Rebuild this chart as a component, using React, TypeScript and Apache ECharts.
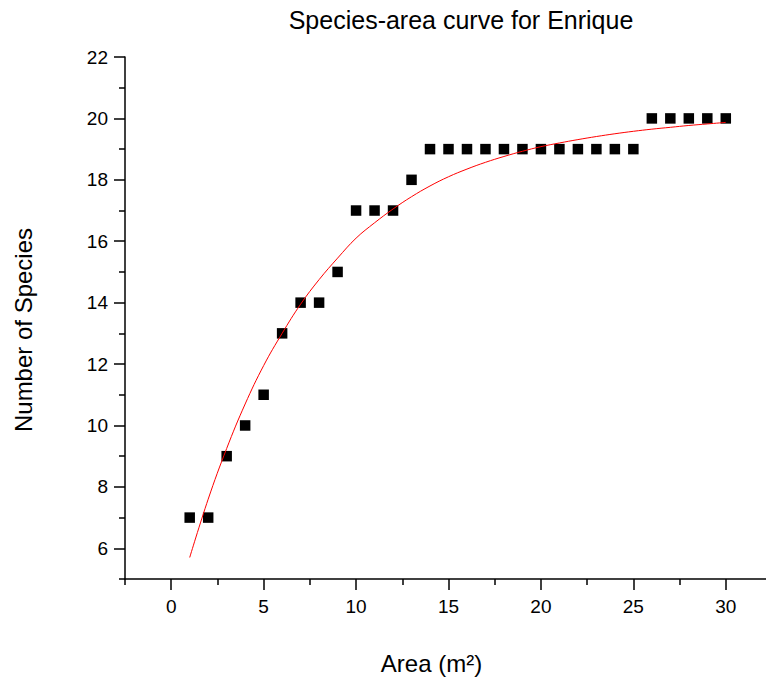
import React, { useEffect, useRef } from "react";
import * as echarts from "echarts";

const areas = [1, 2, 3, 4, 5, 6, 7, 8, 9, 10, 11, 12, 13, 14, 15, 16, 17, 18, 19, 20, 21, 22, 23, 24, 25, 26, 27, 28, 29, 30];
const species = [7, 7, 9, 10, 11, 13, 14, 14, 15, 17, 17, 17, 18, 19, 19, 19, 19, 19, 19, 19, 19, 19, 19, 19, 19, 20, 20, 20, 20, 20];
const fitCurve = [5.7, 7.6, 9.25, 10.7, 11.95, 13.0, 13.95, 14.75, 15.45, 16.1, 16.6, 17.05, 17.45, 17.8, 18.1, 18.35, 18.57, 18.76, 18.93, 19.08, 19.2, 19.31, 19.41, 19.5, 19.58, 19.65, 19.71, 19.77, 19.82, 19.87];

const xMajorTicks = [0, 5, 10, 15, 20, 25, 30];
const xMinorTicks = [-2.5, 2.5, 7.5, 12.5, 17.5, 22.5, 27.5, 32.5];
const yMajorTicks = [6, 8, 10, 12, 14, 16, 18, 20, 22];
const yMinorTicks = [5, 7, 9, 11, 13, 15, 17, 19, 21];

const FONT = "'Liberation Sans', Arial, sans-serif";

export default function App() {
  const ref = useRef<HTMLDivElement>(null);
  useEffect(() => {
    document.documentElement.style.overflow = "hidden";
    document.body.style.overflow = "hidden";
    const chart = echarts.init(ref.current!, null, { renderer: "svg" });
    const axisLine = { show: true, onZero: false, lineStyle: { color: "#000", width: 1.5 } };
    const tickStyle = { color: "#000", width: 1.5 };
    chart.setOption({
      animation: false,
      backgroundColor: "#fff",
      title: {
        text: "Species-area curve for Enrique",
        left: 456,
        top: 2,
        textAlign: "center",
        textStyle: { fontFamily: FONT, fontSize: 25, fontWeight: "normal", color: "#000" },
      },
      grid: { left: 125, top: 57, width: 647, height: 522 },
      xAxis: [
        {
          type: "value",
          min: -2.5,
          max: 32.5,
          position: "bottom",
          name: "Area (m²)",
          nameLocation: "middle",
          nameGap: 72,
          nameTextStyle: { fontFamily: FONT, fontSize: 24, color: "#000", padding: [0, 34, 0, 0] },
          axisLine,
          axisTick: { show: true, customValues: xMajorTicks, length: 11, lineStyle: tickStyle },
          axisLabel: { customValues: xMajorTicks, fontFamily: FONT, fontSize: 19, color: "#000", margin: 18 },
          splitLine: { show: false },
        },
        {
          type: "value",
          min: -2.5,
          max: 32.5,
          position: "bottom",
          axisLine: { show: false, onZero: false },
          axisTick: { show: true, customValues: xMinorTicks, length: 6, lineStyle: tickStyle },
          axisLabel: { show: false },
          splitLine: { show: false },
        },
      ],
      yAxis: [
        {
          type: "value",
          min: 5,
          max: 22,
          position: "left",
          name: "Number of Species",
          nameLocation: "middle",
          nameGap: 90,
          nameTextStyle: { fontFamily: FONT, fontSize: 24, color: "#000", padding: [0, 24, 0, 0] },
          axisLine,
          axisTick: { show: true, customValues: yMajorTicks, length: 11, lineStyle: tickStyle },
          axisLabel: { customValues: yMajorTicks, fontFamily: FONT, fontSize: 19, color: "#000", margin: 17 },
          splitLine: { show: false },
        },
        {
          type: "value",
          min: 5,
          max: 22,
          position: "left",
          axisLine: { show: false, onZero: false },
          axisTick: { show: true, customValues: yMinorTicks, length: 6, lineStyle: tickStyle },
          axisLabel: { show: false },
          splitLine: { show: false },
        },
      ],
      series: [
        {
          type: "scatter",
          xAxisIndex: 0,
          yAxisIndex: 0,
          symbol: "rect",
          symbolSize: 10.5,
          itemStyle: { color: "#000", opacity: 1 },
          data: areas.map((a, i) => [a, species[i]]),
          z: 2,
        },
        {
          type: "line",
          xAxisIndex: 0,
          yAxisIndex: 0,
          showSymbol: false,
          smooth: 0.4,
          lineStyle: { color: "#ff0000", width: 1 },
          data: areas.map((a, i) => [a, fitCurve[i]]),
          z: 3,
        },
      ],
    });
    return () => chart.dispose();
  }, []);
  return <div ref={ref} style={{ position: "fixed", left: 0, top: 0, width: 780, height: 685 }} />;
}
